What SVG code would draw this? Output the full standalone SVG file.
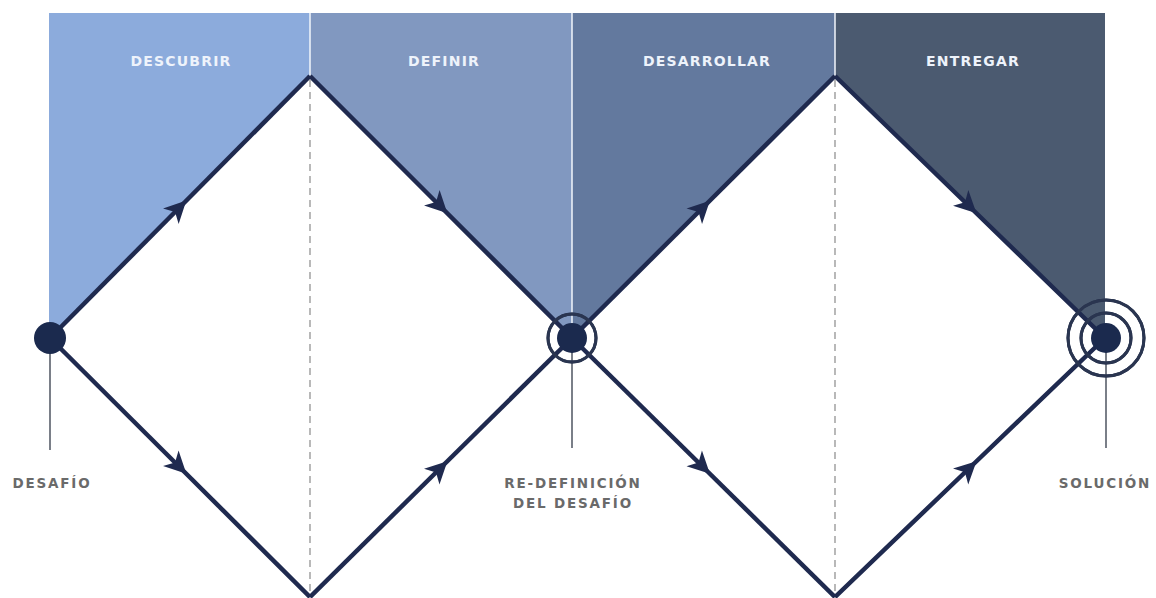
<svg xmlns="http://www.w3.org/2000/svg" width="1156" height="598" viewBox="0 0 1156 598">
  <style>
    .panel-sep { stroke: #f2f6fb; stroke-width: 1.5; }
    .dash { stroke: #8a8a8a; stroke-width: 1.2; stroke-dasharray: 7 5; fill: none; }
    .flow { stroke: #1f2a4f; stroke-width: 4.5; fill: none; stroke-linejoin: miter; marker-mid: url(#arrow); }
    .stem { stroke: #7a7f88; stroke-width: 2; }
    .phase { font-family: "DejaVu Sans", Verdana, sans-serif; font-weight: bold; font-size: 14px; letter-spacing: 1.2px; fill: #eef3fb; text-anchor: middle; }
    .milestone { font-family: "DejaVu Sans", Verdana, sans-serif; font-weight: bold; font-size: 13.5px; letter-spacing: 1.8px; fill: #6a6a6a; text-anchor: middle; }
    .dot { fill: #1b2a4e; }
    .ring { fill: none; stroke: #2a3550; stroke-width: 3; }
  </style>
  <defs>
    <marker id="arrow" markerUnits="userSpaceOnUse" markerWidth="32" markerHeight="32" viewBox="-20 -14 32 28" refX="0" refY="0" orient="auto">
      <path d="M9,0 L-13,-11 L-7,0 L-13,11 Z" fill="#1f2a4f"/>
    </marker>
  </defs>
  <rect width="1156" height="598" fill="#ffffff"/>

  <g id="panels">
    <polygon points="49,13 310,13 310,76 49,338" fill="#8cabdc"/>
    <polygon points="310,13 572,13 572,338 310,76" fill="#8198c0"/>
    <polygon points="572,13 835,13 835,76 572,338" fill="#63799e"/>
    <polygon points="835,13 1105,13 1105,338 835,76" fill="#4b5a70"/>
    <line class="panel-sep" x1="310" y1="13" x2="310" y2="76"/>
    <line class="panel-sep" x1="572" y1="13" x2="572" y2="330"/>
    <line class="panel-sep" x1="835" y1="13" x2="835" y2="76"/>
  </g>

  <g id="dashes">
    <line class="dash" x1="310" y1="80" x2="310" y2="592"/>
    <line class="dash" x1="835" y1="80" x2="835" y2="592"/>
  </g>

  <g id="phase-labels">
    <text class="phase" x="181" y="66">DESCUBRIR</text>
    <text class="phase" x="444" y="66">DEFINIR</text>
    <text class="phase" x="707" y="66">DESARROLLAR</text>
    <text class="phase" x="973" y="66">ENTREGAR</text>
  </g>

  <g id="connectors">
    <path class="flow" d="M50,338 L180,207 L310,76"/>
    <path class="flow" d="M50,338 L180,467.5 L310,597"/>
    <path class="flow" d="M310,76 L441,207 L572,338"/>
    <path class="flow" d="M310,597 L441,467.5 L572,338"/>
    <path class="flow" d="M572,338 L703.5,207 L835,76"/>
    <path class="flow" d="M572,338 L703.5,467.5 L835,597"/>
    <path class="flow" d="M835,76 L970,207 L1105,338"/>
    <path class="flow" d="M835,597 L970,467.5 L1105,338"/>
  </g>

  <g id="node-desafio">
    <line class="stem" x1="50" y1="338" x2="50" y2="450"/>
    <circle class="dot" cx="50" cy="338" r="16"/>
    <text class="milestone" x="52" y="488">DESAFÍO</text>
  </g>

  <g id="node-redefinicion">
    <line class="stem" x1="572" y1="338" x2="572" y2="448"/>
    <circle class="ring" cx="572" cy="338" r="24" stroke="#ffffff" stroke-width="7"/>
    <circle class="ring" cx="572" cy="338" r="24"/>
    <circle class="dot" cx="572" cy="338" r="15"/>
    <text class="milestone" x="573" y="488">RE-DEFINICIÓN</text>
    <text class="milestone" x="573" y="508">DEL DESAFÍO</text>
  </g>

  <g id="node-solucion">
    <line class="stem" x1="1106" y1="338" x2="1106" y2="448"/>
    <circle class="ring" cx="1106" cy="338" r="38" stroke="#ffffff" stroke-width="7"/>
    <circle class="ring" cx="1106" cy="338" r="38"/>
    <circle class="ring" cx="1106" cy="338" r="25" stroke="#ffffff" stroke-width="7"/>
    <circle class="ring" cx="1106" cy="338" r="25"/>
    <circle class="dot" cx="1106" cy="338" r="15"/>
    <text class="milestone" x="1105" y="488">SOLUCIÓN</text>
  </g>
</svg>
